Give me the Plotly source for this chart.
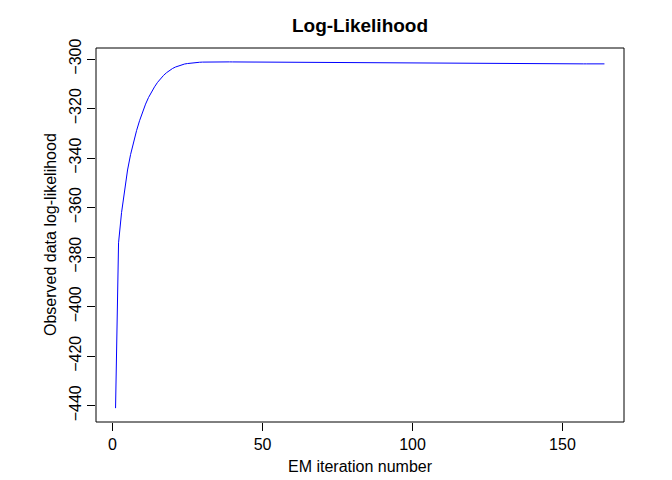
import plotly.graph_objects as go

# EM log-likelihood trace
loglik_head = [
    -441.0, -374.2, -362.0, -352.3, -344.8, -338.6, -333.5, -328.9, -324.9, -321.3,
    -318.2, -315.5, -313.2, -311.2, -309.4, -307.9, -306.6, -305.5, -304.6, -303.8,
    -303.2, -302.7, -302.3, -302.0, -301.8, -301.6, -301.45, -301.35, -301.28, -301.22,
    -301.18, -301.15, -301.13, -301.12, -301.12,
]
loglik_mid = [
    -301.12, -301.13, -301.13, -301.14, -301.15, -301.16, -301.17, -301.18, -301.19, -301.20,
    -301.21, -301.22, -301.23, -301.25, -301.26,
    -301.27, -301.29, -301.30, -301.31, -301.33, -301.34, -301.35, -301.37, -301.38, -301.39,
    -301.40, -301.42, -301.43, -301.44, -301.45, -301.46, -301.47, -301.48, -301.49, -301.50,
    -301.51, -301.52, -301.53, -301.54, -301.55, -301.56, -301.57, -301.58, -301.59, -301.60,
    -301.60, -301.61, -301.62, -301.63, -301.64, -301.64, -301.65, -301.66, -301.67, -301.67,
    -301.68, -301.69, -301.70, -301.70, -301.71, -301.72, -301.73, -301.74, -301.75, -301.76,
]
loglik_tail = [
    -301.77, -301.78, -301.79, -301.80, -301.80, -301.81, -301.81, -301.82, -301.82, -301.83,
    -301.83, -301.84, -301.84, -301.84, -301.85, -301.85, -301.85, -301.86, -301.86, -301.86,
    -301.87, -301.87, -301.87, -301.87, -301.88, -301.88, -301.88, -301.88, -301.89, -301.89,
    -301.89, -301.89, -301.89, -301.90, -301.90, -301.90, -301.90, -301.90, -301.90, -301.91,
    -301.91, -301.91, -301.91, -301.91, -301.91, -301.91, -301.92, -301.92, -301.92, -301.92,
    -301.92, -301.92, -301.92, -301.92, -301.92, -301.93, -301.93, -301.93, -301.93, -301.93,
    -301.93, -301.93, -301.93, -301.93,
]
loglik = loglik_head + loglik_mid + loglik_tail
iterations = list(range(1, len(loglik) + 1))

x_ticks = [0, 50, 100, 150]
y_ticks = [-440, -420, -400, -380, -360, -340, -320, -300]

title_text = "Log-Likelihood"
x_title = "EM iteration number"
y_title = "Observed data log-likelihood"

# R-style 4% axis padding
xr = (min(iterations), max(iterations))
yr = (min(loglik), max(loglik))
xpad = 0.04 * (xr[1] - xr[0])
ypad = 0.04 * (yr[1] - yr[0])

FONT = "Liberation Sans, Arial, Helvetica, sans-serif"

# page body has an 8px margin, so the figure is 8px smaller and margins shifted
W, H = 664, 472

fig = go.Figure(go.Scatter(
    x=iterations, y=loglik, mode="lines",
    line=dict(color="#0000FF", width=1),
    hoverinfo="skip", showlegend=False,
))

fig.update_layout(
    width=W, height=H,
    margin=dict(l=88, r=48, t=40, b=58),
    paper_bgcolor="white", plot_bgcolor="white",
    font=dict(family=FONT, size=16, color="black"),
    title=dict(text="<b>" + title_text + "</b>", x=(88 + 616) / 2 / W, xanchor="center",
               y=1 - 17 / H, yanchor="middle", yref="container",
               font=dict(size=19, family=FONT, color="black")),
    xaxis=dict(range=[xr[0] - xpad, xr[1] + xpad], tickvals=x_ticks,
               ticks="outside", ticklen=8, tickwidth=1, tickcolor="black",
               showgrid=False, zeroline=False, showline=False,
               tickfont=dict(size=16)),
    yaxis=dict(range=[yr[0] - ypad, yr[1] + ypad], tickvals=y_ticks,
               ticks="outside", ticklen=8, tickwidth=1, tickcolor="black",
               showgrid=False, zeroline=False, showline=False,
               tickangle=-90, tickfont=dict(size=16)),
    shapes=[dict(type="rect", xref="paper", yref="paper", x0=0, x1=1, y0=0, y1=1,
                 line=dict(color="black", width=1))],
    annotations=[
        dict(text=x_title, xref="paper", yref="paper", x=0.5, y=(374 - 418) / 374,
             xanchor="center", yanchor="middle", showarrow=False,
             font=dict(size=16, family=FONT, color="black")),
        dict(text=y_title, xref="paper", yref="paper", x=(42 - 88) / 528, y=0.5,
             xanchor="center", yanchor="middle", textangle=-90, showarrow=False,
             font=dict(size=16, family=FONT, color="black")),
    ],
)

fig.write_html("out.html")
